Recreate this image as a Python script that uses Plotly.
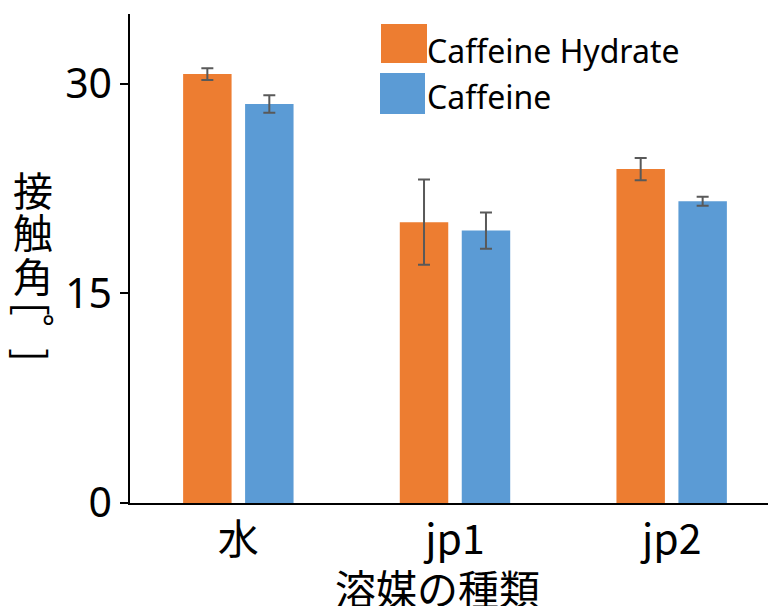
import plotly.graph_objects as go

solvents = ["水", "jp1", "jp2"]
hydrate = [30.7, 20.1, 23.9]
hydrate_err = [0.42, 3.05, 0.8]
caffeine = [28.56, 19.5, 21.6]
caffeine_err = [0.63, 1.3, 0.32]
series_names = ["Caffeine Hydrate", "Caffeine"]
colors = ["#ED7D31", "#5B9BD5"]
y_ticks = [0, 15, 30]

# page has an 8px body margin
OFF = 8
W, H = 772, 606 - OFF
L, R, T, B = 122, 0, 6, 103
pw, ph = W - L - R, H - T - B

def px(x):
    return (x - OFF - L) / pw

def py(y):
    return (H - B - (y - OFF)) / ph

fig = go.Figure()
for name, vals, errs, col in [(series_names[0], hydrate, hydrate_err, colors[0]),
                              (series_names[1], caffeine, caffeine_err, colors[1])]:
    fig.add_trace(go.Bar(
        x=solvents, y=vals, name=name,
        marker=dict(color=col, line=dict(width=0)),
        error_y=dict(type="data", array=errs, visible=True,
                     color="#595959", thickness=2, width=6),
        showlegend=False,
    ))

cjk = "Noto Sans CJK JP"
lat = "Noto Sans"

annotations = []
# y-axis title stacked vertically
for ch, yc in [("接", 189), ("触", 231), ("角", 275)]:
    annotations.append(dict(text=ch, x=px(33), y=py(yc), xref="paper", yref="paper",
                            xanchor="center", yanchor="middle", showarrow=False,
                            font=dict(family=cjk, size=40, color="black")))
annotations.append(dict(text="[", x=px(35), y=py(309), xref="paper", yref="paper",
                        xanchor="center", yanchor="middle", showarrow=False, textangle=90,
                        font=dict(family=cjk, size=41, color="black")))
annotations.append(dict(text="°", x=px(48), y=py(327), xref="paper", yref="paper",
                        xanchor="center", yanchor="middle", showarrow=False,
                        font=dict(family=lat, size=30, color="black")))
annotations.append(dict(text="]", x=px(34), y=py(355), xref="paper", yref="paper",
                        xanchor="center", yanchor="middle", showarrow=False, textangle=90,
                        font=dict(family=cjk, size=41, color="black")))
# x-axis title
annotations.append(dict(text="溶媒の種類", x=px(437), y=py(587), xref="paper", yref="paper",
                        xanchor="center", yanchor="middle", showarrow=False,
                        font=dict(family=cjk, size=41, color="black")))
# legend text
for name, yc in [(series_names[0], 50), (series_names[1], 96)]:
    annotations.append(dict(text=name, x=px(425), y=py(yc), xref="paper", yref="paper",
                            xanchor="left", yanchor="middle", showarrow=False,
                            font=dict(family=lat, size=32, color="black")))

shapes = [
    dict(type="rect", xref="paper", yref="paper", x0=px(381), x1=px(427),
         y0=py(63), y1=py(24), fillcolor=colors[0], line=dict(width=0)),
    dict(type="rect", xref="paper", yref="paper", x0=px(380), x1=px(425),
         y0=py(114), y1=py(73), fillcolor=colors[1], line=dict(width=0)),
]

fig.update_layout(
    width=W, height=H,
    margin=dict(l=L, r=R, t=T, b=B, pad=0),
    paper_bgcolor="white", plot_bgcolor="white",
    barmode="group", bargap=0.428, bargroupgap=0.218,
    font=dict(family=lat, color="black"),
    annotations=annotations, shapes=shapes,
    xaxis=dict(showline=True, linecolor="black", linewidth=1.5, ticks="",
               tickfont=dict(family=cjk, size=41, color="black"),
               showgrid=False, zeroline=False),
    yaxis=dict(range=[0, 35], tickvals=y_ticks, ticktext=[str(v) for v in y_ticks],
               showline=True, linecolor="black", linewidth=1.5,
               ticks="outside", ticklen=8, tickwidth=1.5, tickcolor="black",
               tickfont=dict(family=lat, size=41, color="black"),
               showgrid=False, zeroline=False),
)

fig.write_html("out.html")
